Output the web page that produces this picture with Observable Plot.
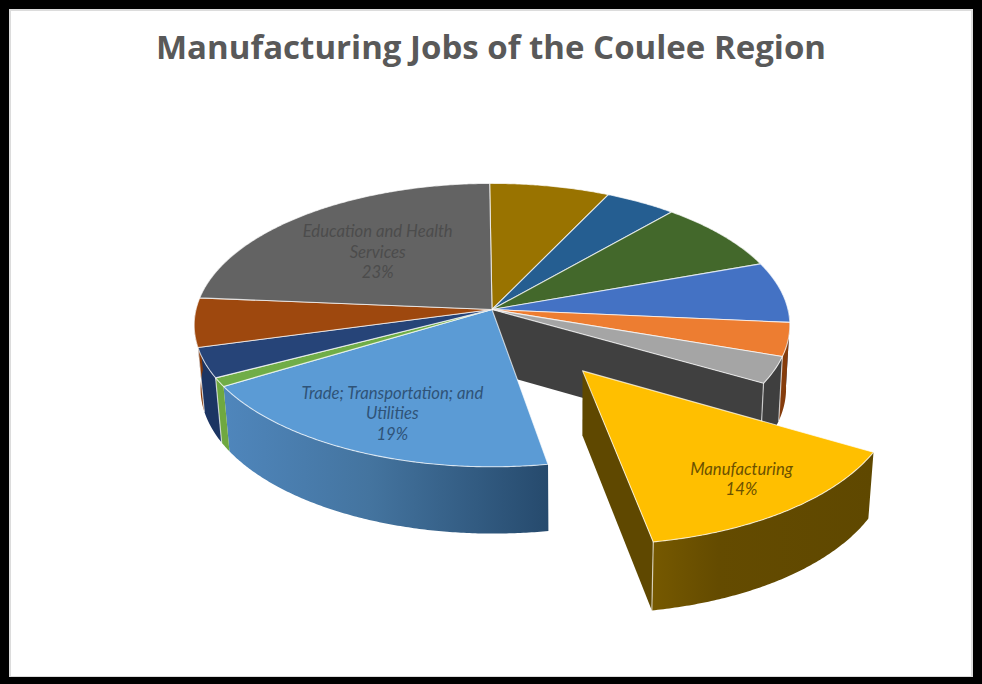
<!DOCTYPE html>
<html>
<head>
<meta charset="utf-8">
<script src="https://cdn.jsdelivr.net/npm/d3@7"></script>
<script src="https://cdn.jsdelivr.net/npm/@observablehq/plot@0.6"></script>
<style>
  html, body { margin: 0; padding: 0; background: #fff; }
  #frame { position: relative; width: 982px; height: 684px; box-sizing: border-box; background: #fff;
    border-style: solid; border-color: #000; border-width: 9px 9px 7px 9px; overflow: hidden; }
  #frame::after { content: ""; position: absolute; inset: 0; border: 2px solid #dcdcdc; border-bottom-width: 1px; pointer-events: none; }
  #title { height: 76px; line-height: 76px; text-align: center; color: #595959;
    font-family: "Open Sans", sans-serif; font-weight: 700; font-size: 33px; white-space: nowrap; }
  #chart svg { display: block; }
</style>
</head>
<body>
<div id="frame">
  <div id="title">Manufacturing Jobs of the Coulee Region</div>
  <div id="chart"></div>
</div>
<script>
// ---- Data, clockwise from the top of the pie (share of jobs, %) ----
const categories = ["Unlabelled A", "Unlabelled B", "Unlabelled C", "Unlabelled D", "Unlabelled E", "Unlabelled F",
  "Manufacturing", "Trade; Transportation; and Utilities", "Unlabelled G", "Unlabelled H", "Unlabelled I", "Education and Health Services"];
const shares = [7.25, 4.3, 8.1, 6.94, 3.8, 3.05, 14, 19.03, 1, 3.42, 5.58, 23.53];
const topColors = ["#997300", "#255e91", "#43682b", "#4472c4", "#ed7d31", "#a5a5a5",
  "#ffbf00", "#5b9bd5", "#70ad47", "#264478", "#9e480e", "#636363"];
const wallColors = ["#6b5000", "#1a4265", "#2f491e", "#2f5089", "#853c0c", "#3f3f3f",
  "url(#wallGold)", "url(#wallBlue)", "#6fa83f", "#1c3563", "#84390a", "#454545"];
const labelTexts = ["Manufacturing\n14%", "Trade; Transportation; and\nUtilities\n19%", "Education and Health\nServices\n23%"];
const labelOwners = [6, 7, 11];
const labelColors = ["#6b5100", "#2f5378", "#4c4c4c"];

// ---- Pie geometry (a tilted disc seen in perspective) ----
const startAngle = -0.5, rx = 296, ry = 140, persp = 0.11, depth = 63, vanishX = 78, shrink = 0.983;
const explodedIndex = 6, explodeBy = 0.51, darkFace = "#404040";
const labelRadius = {6: 0.79, 7: 0.75, 11: 0.595};

const rad = d => d * Math.PI / 180;
const total = d3.sum(shares);
const edges = d3.cumsum(shares).map(c => startAngle + c / total * 360);
const slices = shares.map((v, i) => {
  const a = i === 0 ? startAngle : edges[i - 1], b = edges[i], mid = (a + b) / 2;
  const off = i === explodedIndex ? explodeBy : 0;
  return {i, a, b, mid, ou: off * Math.sin(rad(mid)), ov: -off * Math.cos(rad(mid))};
});

function project(theta, r, bottom, s) {
  const u = r * Math.sin(rad(theta)) + s.ou, v = -r * Math.cos(rad(theta)) + s.ov;
  const k = 1 / (1 - persp * v);
  let x = rx * u * k, y = ry * v * k;
  if (bottom) { x = vanishX + (x - vanishX) * shrink; y += depth * Math.sqrt(k); }
  return {x, y};
}
function arc(a, b, bottom, s) {
  const n = Math.max(2, Math.ceil(Math.abs(b - a) * 2));
  return d3.range(n + 1).map(j => project(a + (b - a) * j / n, 1, bottom, s));
}
const close = pts => [...pts, pts[0]];
const topFace = s => close([project(0, 0, false, s), ...arc(s.a, s.b, false, s)]);
const wallFace = (a, b, s) => close([...arc(a, b, false, s), ...arc(b, a, true, s)]);
const cutFace = (theta, s) => close([project(0, 0, false, s), project(theta, 1, false, s),
  project(theta, 1, true, s), project(0, 0, true, s)]);
const poly = (pts, fill) => Plot.line(pts, {x: "x", y: "y", fill, stroke: "none"});
const topMark = (s) => Plot.line(topFace(s), {x: "x", y: "y", fill: topColors[s.i], stroke: "#fff", strokeOpacity: 0.7, strokeWidth: 1.1});

const main = slices.filter(s => s.i !== explodedIndex);
const ex = slices[explodedIndex];
const visibleWall = s => s.b > 90 && s.a < 271;
const clampA = s => Math.max(s.a, 90), clampB = s => Math.min(s.b, 271);
const seams = main.filter(s => s.b > 100 && s.b < 262 && s.i !== 7)
  .map(s => [project(s.b, 1, false, s), project(s.b, 1, true, s)]);

const defs = () => {
  const d = d3.create("svg:defs");
  const grad = (id, stops) => {
    const g = d.append("linearGradient").attr("id", id).attr("x1", 0).attr("x2", 1).attr("y1", 0).attr("y2", 0);
    stops.forEach(([o, c]) => g.append("stop").attr("offset", o).attr("stop-color", c));
  };
  grad("wallBlue", [[0, "#4f86bc"], [0.45, "#44749f"], [1, "#264a6d"]]);
  grad("wallGold", [[0, "#765900"], [0.3, "#644b00"], [1, "#5f4800"]]);
  return d.node();
};

const chart = Plot.plot({
  width: 964, height: 592, margin: 0,
  x: {domain: [-482.5, 481.5], range: [0, 964], axis: null},
  y: {domain: [-224, 368], range: [0, 592], axis: null},
  style: {background: "transparent"},
  marks: [
    defs,
    ...main.filter(visibleWall).map(s => poly(wallFace(clampA(s), clampB(s), s), wallColors[s.i])),
    poly(cutFace(ex.a, main[explodedIndex - 1]), darkFace),
    ...seams.map(pts => Plot.line(pts, {x: "x", y: "y", stroke: "#fff", strokeOpacity: 0.65, strokeWidth: 1.2})),
    ...main.map(topMark),
    poly(cutFace(ex.b, ex), "#5f4800"),
    poly(wallFace(ex.a, ex.b, ex), wallColors[ex.i]),
    Plot.line([project(ex.b, 1, false, ex), project(ex.b, 1, true, ex)], {x: "x", y: "y", stroke: "#fff", strokeOpacity: 0.65, strokeWidth: 1.2}),
    topMark(ex),
    Plot.text(labelOwners.map((owner, j) => {
      const s = slices[owner];
      return {...project(s.mid, labelRadius[owner], false, s), text: labelTexts[j], color: labelColors[j]};
    }), {
      x: "x", y: "y", text: "text", fill: "color",
      fontFamily: "Lato, sans-serif", fontStyle: "italic", fontSize: 16.7, lineHeight: 1.23,
      textAnchor: "middle", lineAnchor: "middle"
    })
  ]
});
document.getElementById("chart").appendChild(chart);
</script>
</body>
</html>
